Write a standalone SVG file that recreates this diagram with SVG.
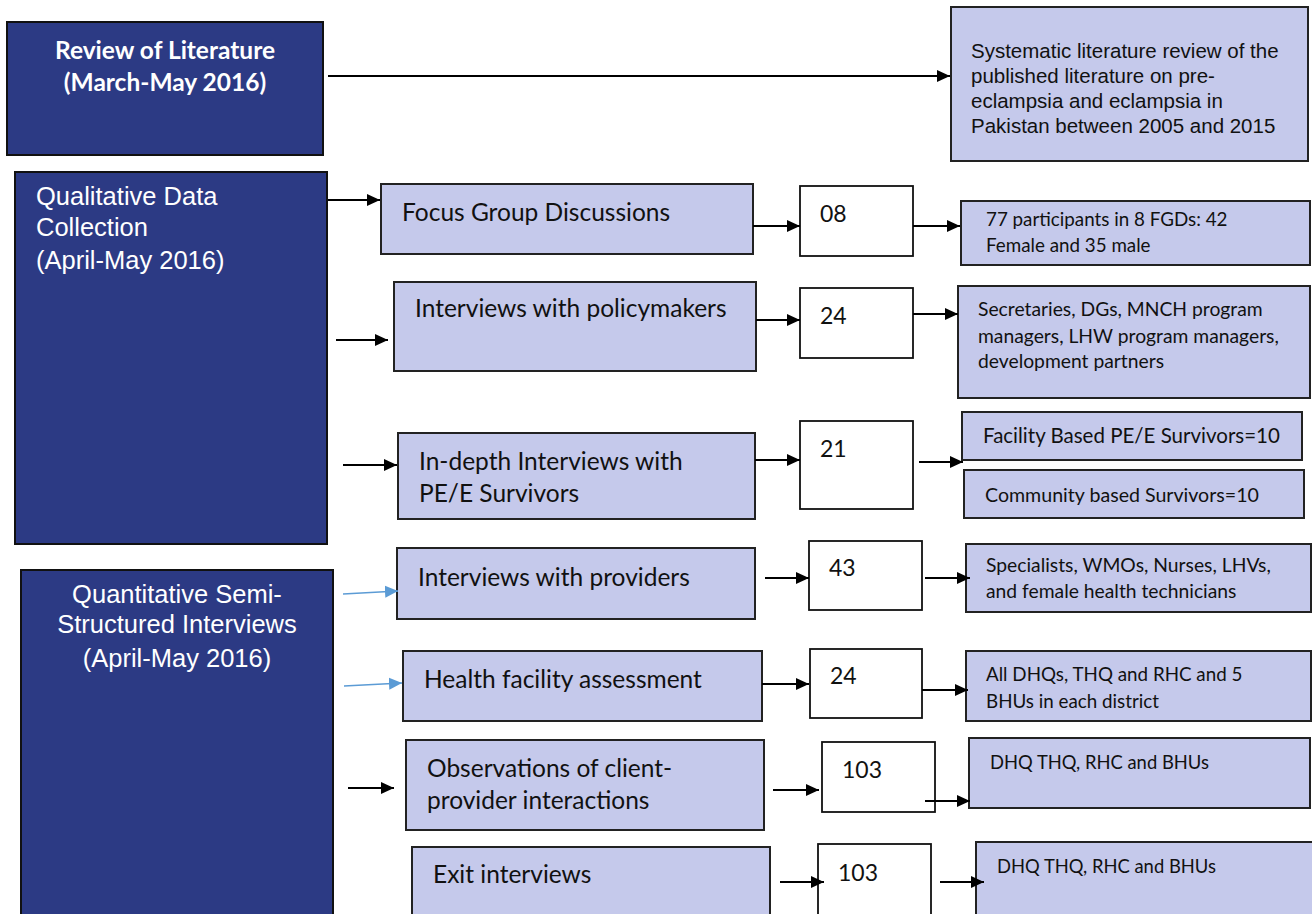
<svg xmlns="http://www.w3.org/2000/svg" width="1312" height="914" viewBox="0 0 1312 914">
<style>
.dark{fill:#2c3a84;stroke:#111;stroke-width:2}
.light{fill:#c5c9eb;stroke:#222;stroke-width:2}
.num{fill:#fff;stroke:#111;stroke-width:1.8}
.t{font-family:Lato,'Liberation Sans',sans-serif;fill:#111}
.w{font-family:Lato,'Liberation Sans',sans-serif;fill:#fff}
.n{font-family:'Liberation Sans Narrow','Liberation Sans',sans-serif}
.big{font-size:24.5px}
.nm{font-size:23px}
.c{stroke:#000;stroke-width:2;fill:none;marker-end:url(#ah)}
.b{stroke:#5b9bd5;stroke-width:1.5;fill:none;marker-end:url(#bh)}
</style>
<defs>
<marker id="ah" markerUnits="userSpaceOnUse" markerWidth="14" markerHeight="14" refX="13" refY="7" orient="auto"><path d="M0,1 L13,7 L0,13 Z" fill="#000"/></marker>
<marker id="bh" markerUnits="userSpaceOnUse" markerWidth="14" markerHeight="14" refX="13" refY="7" orient="auto"><path d="M0,1 L13,7 L0,13 Z" fill="#5b9bd5"/></marker>
</defs>

<g id="review">
<rect class="dark" x="7" y="22" width="316" height="133"/>
<text class="w" x="165" y="59" font-size="24.5" font-weight="bold" text-anchor="middle">Review of Literature</text>
<text class="w" x="165" y="91" font-size="24.5" font-weight="bold" text-anchor="middle">(March-May 2016)</text>
</g>
<g id="systematic">
<rect class="light" x="951" y="7" width="357" height="154"/>
<text class="t n" font-size="20.5"><tspan x="971" y="58">Systematic literature review of the</tspan><tspan x="971" y="83">published literature on pre-</tspan><tspan x="971" y="108">eclampsia and eclampsia in</tspan><tspan x="971" y="133">Pakistan between 2005 and 2015</tspan></text>
</g>

<g id="qualitative">
<rect class="dark" x="15" y="172" width="312" height="372"/>
<text class="w n" font-size="25.5"><tspan x="36" y="205">Qualitative Data</tspan><tspan x="36" y="236">Collection</tspan><tspan x="36" y="269">(April-May 2016)</tspan></text>
</g>

<g id="fgd">
<rect class="light" x="381" y="184" width="372" height="70"/>
<text class="t big" x="402" y="221">Focus Group Discussions</text>
</g>
<g id="n08">
<rect class="num" x="800" y="186" width="113" height="70"/>
<text class="t nm" x="820" y="222">08</text>
</g>
<g id="fgd-detail">
<rect class="light" x="961" y="201" width="349" height="64"/>
<text class="t" font-size="18.8"><tspan x="986" y="226">77 participants in 8 FGDs: 42</tspan><tspan x="986" y="252">Female and 35 male</tspan></text>
</g>

<g id="policy">
<rect class="light" x="394" y="282" width="362" height="89"/>
<text class="t big" x="415" y="317">Interviews with policymakers</text>
</g>
<g id="n24a">
<rect class="num" x="800" y="288" width="113" height="70"/>
<text class="t nm" x="820" y="324">24</text>
</g>
<g id="policy-detail">
<rect class="light" x="958" y="286" width="352" height="112"/>
<text class="t" font-size="19.3"><tspan x="978" y="316">Secretaries, DGs, MNCH program</tspan><tspan x="978" y="343">managers, LHW program managers,</tspan><tspan x="978" y="368">development partners</tspan></text>
</g>

<g id="indepth">
<rect class="light" x="398" y="433" width="357" height="86"/>
<text class="t big"><tspan x="419" y="470">In-depth Interviews with</tspan><tspan x="419" y="502">PE/E Survivors</tspan></text>
</g>
<g id="n21">
<rect class="num" x="800" y="421" width="113" height="88"/>
<text class="t nm" x="820" y="457">21</text>
</g>
<g id="facility-based">
<rect class="light" x="962" y="412" width="340" height="48"/>
<text class="t" x="983" y="443" font-size="20.5">Facility Based PE/E Survivors=10</text>
</g>
<g id="community-based">
<rect class="light" x="964" y="470" width="340" height="48"/>
<text class="t" x="985" y="502" font-size="19.6">Community based Survivors=10</text>
</g>

<g id="quantitative">
<rect class="dark" x="21" y="570" width="312" height="350"/>
<text class="w n" font-size="25.5" text-anchor="middle"><tspan x="177" y="603">Quantitative Semi-</tspan><tspan x="177" y="633">Structured Interviews</tspan><tspan x="177" y="667">(April-May 2016)</tspan></text>
</g>

<g id="providers">
<rect class="light" x="397" y="548" width="358" height="71"/>
<text class="t big" x="418" y="586">Interviews with providers</text>
</g>
<g id="n43">
<rect class="num" x="809" y="541" width="113" height="69"/>
<text class="t nm" x="829" y="576">43</text>
</g>
<g id="providers-detail">
<rect class="light" x="966" y="544" width="345" height="68"/>
<text class="t" font-size="19.3"><tspan x="986" y="572">Specialists, WMOs, Nurses, LHVs,</tspan><tspan x="986" y="598">and female health technicians</tspan></text>
</g>

<g id="hfa">
<rect class="light" x="403" y="651" width="359" height="70"/>
<text class="t big" x="424" y="688">Health facility assessment</text>
</g>
<g id="n24b">
<rect class="num" x="810" y="649" width="112" height="69"/>
<text class="t nm" x="830" y="684">24</text>
</g>
<g id="hfa-detail">
<rect class="light" x="966" y="651" width="345" height="70"/>
<text class="t" font-size="18.8"><tspan x="986" y="681">All DHQs, THQ and RHC and 5</tspan><tspan x="986" y="708">BHUs in each district</tspan></text>
</g>

<g id="observations">
<rect class="light" x="406" y="740" width="358" height="90"/>
<text class="t big"><tspan x="427" y="777">Observations of client-</tspan><tspan x="427" y="809">provider interactions</tspan></text>
</g>
<g id="n103a">
<rect class="num" x="822" y="742" width="113" height="70"/>
<text class="t nm" x="842" y="778">103</text>
</g>
<g id="obs-detail">
<rect class="light" x="969" y="738" width="341" height="70"/>
<text class="t" x="990" y="769" font-size="18.4">DHQ THQ, RHC and BHUs</text>
</g>

<g id="exit">
<rect class="light" x="412" y="847" width="358" height="75"/>
<text class="t big" x="433" y="883">Exit interviews</text>
</g>
<g id="n103b">
<rect class="num" x="818" y="844" width="113" height="75"/>
<text class="t nm" x="838" y="881">103</text>
</g>
<g id="exit-detail">
<rect class="light" x="976" y="842" width="340" height="80"/>
<text class="t" x="997" y="873" font-size="18.4">DHQ THQ, RHC and BHUs</text>
</g>

<g id="connectors">
<line class="c" x1="328" y1="76" x2="950" y2="76"/>
<line class="c" x1="328" y1="200" x2="380" y2="200"/>
<line class="c" x1="753" y1="226" x2="800" y2="226"/>
<line class="c" x1="913" y1="226" x2="960" y2="226"/>
<line class="c" x1="336" y1="340" x2="388" y2="340"/>
<line class="c" x1="756" y1="320" x2="800" y2="320"/>
<line class="c" x1="913" y1="314" x2="958" y2="314"/>
<line class="c" x1="343" y1="465" x2="397" y2="465"/>
<line class="c" x1="755" y1="460" x2="800" y2="460"/>
<line class="c" x1="919" y1="462" x2="963" y2="462"/>
<line class="b" x1="343" y1="594" x2="398" y2="591"/>
<line class="c" x1="765" y1="578" x2="809" y2="578"/>
<line class="c" x1="925" y1="578" x2="970" y2="578"/>
<line class="b" x1="344" y1="686" x2="402" y2="683"/>
<line class="c" x1="762" y1="684" x2="809" y2="684"/>
<line class="c" x1="922" y1="690" x2="968" y2="690"/>
<line class="c" x1="348" y1="788" x2="394" y2="788"/>
<line class="c" x1="773" y1="790" x2="819" y2="790"/>
<line class="c" x1="925" y1="801" x2="970" y2="801"/>
<line class="c" x1="780" y1="882" x2="824" y2="882"/>
<line class="c" x1="940" y1="882" x2="984" y2="882"/>
</g>
</svg>
